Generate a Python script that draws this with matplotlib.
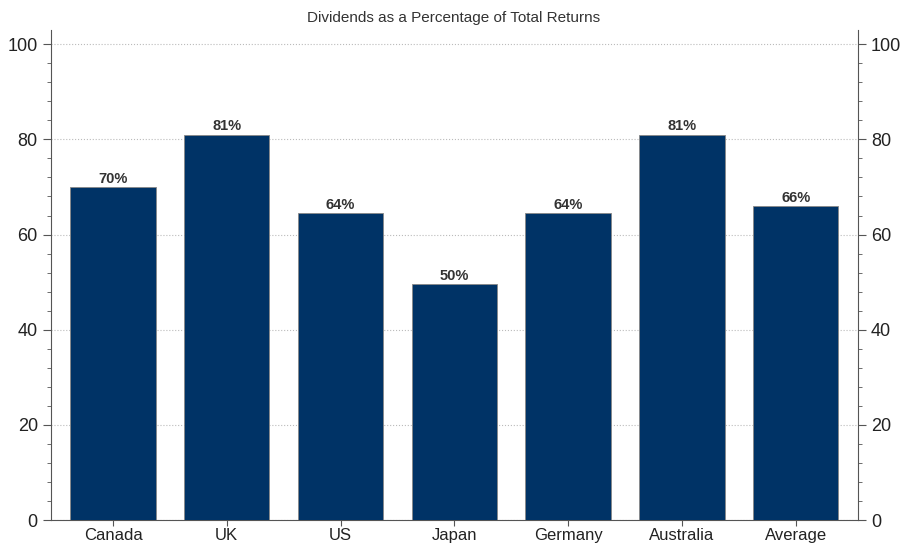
import numpy as np
import matplotlib.pyplot as plt
from matplotlib.ticker import MultipleLocator

plt.rcParams['font.family'] = ['Liberation Sans', 'DejaVu Sans']

countries = ['Canada', 'UK', 'US', 'Japan', 'Germany', 'Australia', 'Average']
div_share = [70, 81, 64.5, 49.6, 64.5, 81, 66]
labels = ['70%', '81%', '64%', '50%', '64%', '81%', '66%']

bar_col = '#003366'
axis_col = '#555555'

fig = plt.figure(figsize=(9.01, 5.44), dpi=100)
ax = fig.add_axes([0.0566, 0.044, 0.8954, 0.901])

x = np.arange(len(countries))
ax.bar(x, div_share, width=0.75, color=bar_col, edgecolor='#888888', linewidth=0.6, zorder=3)

for xi, v, lab in zip(x, div_share, labels):
    ax.text(xi, v + 0.3, lab, ha='center', va='bottom', fontsize=10.5,
            fontweight='bold', color='#333333', zorder=4)

ax.set_xlim(-0.545, 6.545)
ax.set_ylim(0, 103)
ax.set_xticks(x)
ax.set_xticklabels(countries, fontsize=12, color='#222222')
ax.yaxis.set_major_locator(MultipleLocator(20))
ax.yaxis.set_minor_locator(MultipleLocator(4))
ax.tick_params(axis='y', which='both', labelsize=13, colors=axis_col,
               labelcolor='#222222', left=True, right=True,
               labelleft=True, labelright=True, direction='out')
ax.tick_params(axis='y', which='major', length=6)
ax.tick_params(axis='y', which='minor', length=3)
ax.tick_params(axis='x', length=4, colors=axis_col, labelcolor='#222222', pad=2)

ax.grid(axis='y', which='major', linestyle=':', color='#bbbbbb', linewidth=0.8, zorder=0)

ax.spines['top'].set_visible(False)
for s in ['left', 'right', 'bottom']:
    ax.spines[s].set_color(axis_col)
    ax.spines[s].set_linewidth(0.8)

fig.text(0.503, 1 - 18 / 544, 'Dividends as a Percentage of Total Returns',
         ha='center', va='center', fontsize=11, color='#333333')

fig.savefig('out.png', dpi=100)
